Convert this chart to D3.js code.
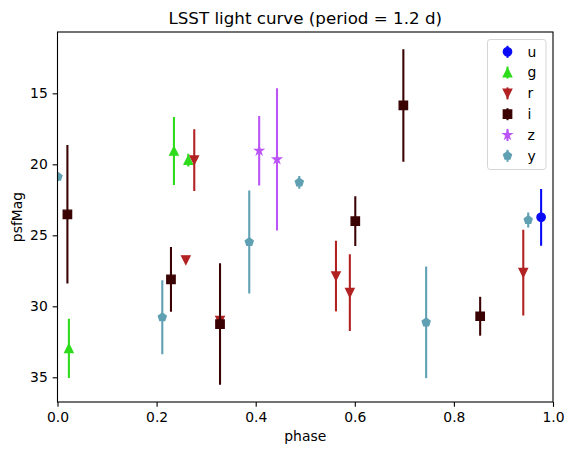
<!DOCTYPE html>
<html>
<head>
<meta charset="utf-8">
<script src="https://cdn.jsdelivr.net/npm/d3@7"></script>
<style>
  body { margin: 0; background: #fff; }
  svg { font-family: "DejaVu Sans", sans-serif; }
</style>
</head>
<body>
<svg id="chart" width="573" height="455"></svg>
<script>
// light curve data (phase, psfMag, error)
const bands = ["u", "g", "r", "i", "z", "y"];
const bandColors = ["#0a0af5", "#2fdc1c", "#b22222", "#3a0202", "#bb55f7", "#5fa0b2"];
const bandMarkers = ["circle", "triUp", "triDown", "square", "star", "pentagon"];

const phaseU = [0.976];
const magU = [23.73];
const errU = [2.0];

const phaseG = [0.023, 0.235, 0.264];
const magG = [32.96, 19.06, 19.7];
const errG = [2.09, 2.39, 0.45];

const phaseR = [0.259, 0.276, 0.328, 0.562, 0.590, 0.940];
const magR = [26.74, 19.7, 31.0, 27.87, 29.04, 27.63];
const errR = [0.15, 2.17, 0.3, 2.49, 2.70, 3.02];

const phaseI = [0.020, 0.229, 0.328, 0.601, 0.698, 0.853];
const magI = [23.52, 28.1, 31.25, 24.0, 15.85, 30.7];
const errI = [4.88, 2.28, 4.28, 1.75, 3.96, 1.37];

const phaseZ = [0.407, 0.443];
const magZ = [19.04, 19.65];
const errZ = [2.45, 5.01];

const phaseY = [0.001, 0.2115, 0.387, 0.488, 0.744, 0.950];
const magY = [20.87, 30.77, 25.47, 21.27, 31.13, 23.92];
const errY = [0.3, 2.6, 3.63, 0.45, 3.93, 0.53];

const xTicks = [0, 0.2, 0.4, 0.6, 0.8, 1.0];
const yTicks = [15, 20, 25, 30, 35];

const series = [
  { phase: phaseU, mag: magU, err: errU },
  { phase: phaseG, mag: magG, err: errG },
  { phase: phaseR, mag: magR, err: errR },
  { phase: phaseI, mag: magI, err: errI },
  { phase: phaseZ, mag: magZ, err: errZ },
  { phase: phaseY, mag: magY, err: errY }
];

const svg = d3.select("#chart");
const margin = { left: 57.5, right: 20, top: 32, bottom: 53 };
const width = 573 - margin.left - margin.right;   // ~496
const height = 455 - margin.top - margin.bottom;  // ~370

const x = d3.scaleLinear().domain([0, 1]).range([0, width]);
// magnitude axis is inverted: bright (small) at top
const y = d3.scaleLinear().domain([10.68, 36.74]).range([0, height]);

const g = svg.append("g").attr("transform", `translate(${margin.left},${margin.top})`);

svg.append("defs").append("clipPath").attr("id", "clip")
  .append("rect").attr("width", width).attr("height", height);

// marker paths similar to matplotlib's (markersize 6pt at 100 dpi)
const ms = 8.33;
function markerPath(kind) {
  const r = ms / 2;
  const p = d3.path();
  if (kind === "circle") {
    p.arc(0, 0, r, 0, 2 * Math.PI);
  } else if (kind === "square") {
    p.rect(-r, -r, ms, ms);
  } else if (kind === "triUp") {
    p.moveTo(0, -r); p.lineTo(r, r); p.lineTo(-r, r); p.closePath();
  } else if (kind === "triDown") {
    p.moveTo(0, r); p.lineTo(r, -r); p.lineTo(-r, -r); p.closePath();
  } else if (kind === "star" || kind === "pentagon") {
    const n = kind === "star" ? 10 : 5;
    for (let k = 0; k < n; k++) {
      const a = -Math.PI / 2 + k * 2 * Math.PI / n;
      const rr = (kind === "star" && k % 2 === 1) ? r * 0.381966 : r;
      const px = rr * Math.cos(a), py = rr * Math.sin(a);
      if (k === 0) p.moveTo(px, py); else p.lineTo(px, py);
    }
    p.closePath();
  }
  return p.toString();
}

const plot = g.append("g").attr("clip-path", "url(#clip)");

series.forEach((s, si) => {
  const pts = s.phase.map((ph, k) => ({ phase: ph, mag: s.mag[k], err: s.err[k] }));
  const grp = plot.append("g");
  grp.selectAll("line")
    .data(pts)
    .enter().append("line")
    .attr("x1", d => x(d.phase))
    .attr("x2", d => x(d.phase))
    .attr("y1", d => y(d.mag - d.err))
    .attr("y2", d => y(d.mag + d.err))
    .attr("stroke", bandColors[si])
    .attr("stroke-width", 2.08);
  grp.selectAll("path")
    .data(pts)
    .enter().append("path")
    .attr("d", markerPath(bandMarkers[si]))
    .attr("transform", d => `translate(${x(d.phase)},${y(d.mag)})`)
    .attr("fill", bandColors[si])
    .attr("stroke", bandColors[si])
    .attr("stroke-width", 1.39)
    .attr("stroke-linejoin", "miter");
});

// axes
const xAxis = g.append("g")
  .attr("transform", `translate(0,${height})`)
  .call(d3.axisBottom(x).tickValues(xTicks).tickFormat(d3.format(".1f")).tickSize(4.86).tickPadding(4.9));
const yAxis = g.append("g")
  .call(d3.axisLeft(y).tickValues(yTicks).tickFormat(d3.format("d")).tickSize(4.86).tickPadding(4.9));

[xAxis, yAxis].forEach(ax => {
  ax.select(".domain").remove();
  ax.selectAll("line").attr("stroke", "#000").attr("stroke-width", 1.1);
  ax.selectAll("text").attr("fill", "#000").style("font-size", "13.9px")
    .style("font-family", "DejaVu Sans");
});

// frame
g.append("rect").attr("width", width).attr("height", height)
  .attr("fill", "none").attr("stroke", "#000").attr("stroke-width", 1.1);

// labels
svg.append("text").attr("x", margin.left + width / 2).attr("y", 24)
  .attr("text-anchor", "middle").style("font-size", "16.7px")
  .text("LSST light curve (period = 1.2 d)");
svg.append("text").attr("x", margin.left + width / 2).attr("y", 441)
  .attr("text-anchor", "middle").style("font-size", "13.9px").text("phase");
svg.append("text").attr("transform", `translate(22,${margin.top + height / 2}) rotate(-90)`)
  .attr("text-anchor", "middle").style("font-size", "13.9px").text("psfMag");

// legend
const legend = svg.append("g").attr("transform", "translate(487.5,39.5)");
legend.append("rect").attr("width", 58.5).attr("height", 130).attr("rx", 2.8)
  .attr("fill", "#fff").attr("fill-opacity", 0.8)
  .attr("stroke", "#d5d5d5").attr("stroke-width", 1);

const entries = legend.selectAll(".entry")
  .data(bands)
  .enter().append("g")
  .attr("class", "entry")
  .attr("transform", (d, k) => `translate(20,${12.3 + k * 20.8})`);
entries.append("line")
  .attr("y1", -6).attr("y2", 6)
  .attr("stroke", (d, k) => bandColors[k]).attr("stroke-width", 2.08);
entries.append("path")
  .attr("d", (d, k) => markerPath(bandMarkers[k]))
  .attr("fill", (d, k) => bandColors[k])
  .attr("stroke", (d, k) => bandColors[k]).attr("stroke-width", 1.39);
entries.append("text")
  .attr("x", 20).attr("dy", "0.35em")
  .style("font-size", "13.9px")
  .text(d => d);
</script>
</body>
</html>
